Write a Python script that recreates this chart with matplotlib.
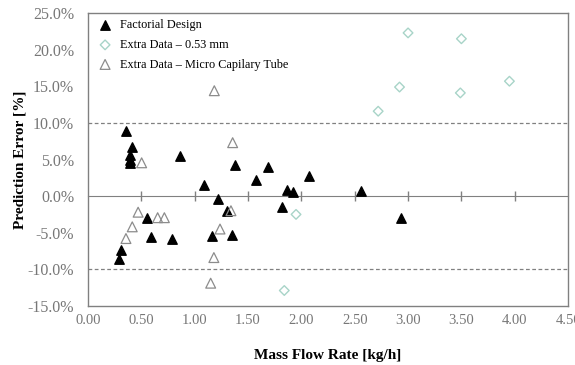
import matplotlib
matplotlib.use('Agg')
import matplotlib.pyplot as plt
from matplotlib.ticker import FuncFormatter

plt.rcParams['font.family'] = ['Liberation Serif', 'DejaVu Serif']

# Factorial Design
fact_x = [0.36, 0.41, 0.39, 0.39, 0.39, 0.86, 1.38, 1.69, 1.09, 1.575, 1.87, 1.925,
          1.216, 1.30, 1.815, 0.556, 0.594, 0.79, 1.165, 1.347, 0.306, 0.29,
          2.075, 2.556, 2.93]
fact_y = [8.9, 6.7, 5.6, 4.9, 4.5, 5.5, 4.2, 4.0, 1.5, 2.2, 0.9, 0.6,
          -0.45, -2.05, -1.45, -3.05, -5.6, -5.9, -5.45, -5.3, -7.3, -8.6,
          2.8, 0.68, -2.95]

# Extra Data - 0.53 mm
d053_x = [3.00, 3.50, 3.95, 2.92, 3.49, 2.72, 1.95, 1.84]
d053_y = [22.3, 21.5, 15.7, 14.9, 14.1, 11.6, -2.5, -12.9]

# Extra Data - Micro Capilary Tube
mct_x = [1.184, 1.356, 0.503, 0.47, 0.653, 0.716, 0.415, 0.356, 1.34, 1.2375, 1.18, 1.15]
mct_y = [14.4, 7.3, 4.55, -2.2, -2.95, -2.95, -4.2, -5.8, -2.0, -4.5, -8.4, -11.9]

x_ticks = [0.0, 0.5, 1.0, 1.5, 2.0, 2.5, 3.0, 3.5, 4.0, 4.5]
y_ticks = [-15, -10, -5, 0, 5, 10, 15, 20, 25]

fig = plt.figure(figsize=(5.75, 3.65), dpi=100)
ax = fig.add_axes([0.153, 0.162, 0.835, 0.802])

grey = '#808080'
ax.axhline(10, color=grey, lw=0.9, ls=(0, (3, 2)), zorder=1)
ax.axhline(-10, color=grey, lw=0.9, ls=(0, (3, 2)), zorder=1)

ax.scatter(fact_x, fact_y, marker='^', s=46, c='black', zorder=3, label='Factorial Design')
ax.scatter(d053_x, d053_y, marker='D', s=24, facecolors='none', edgecolors='#a8d4c8',
           linewidths=1.0, zorder=3, label='Extra Data – 0.53 mm')
ax.scatter(mct_x, mct_y, marker='^', s=50, facecolors='none', edgecolors='#8c8c8c',
           linewidths=0.9, zorder=3, label='Extra Data – Micro Capilary Tube')

ax.set_xlim(0, 4.5)
ax.set_ylim(-15, 25)
ax.set_xticks(x_ticks)
ax.set_yticks(y_ticks)
ax.xaxis.set_major_formatter(FuncFormatter(lambda v, p: f'{v:.2f}'))
ax.yaxis.set_major_formatter(FuncFormatter(lambda v, p: f'{v:.1f}%'))
ax.tick_params(axis='x', length=0, labelsize=10.5, labelcolor='#777777', pad=6)
ax.tick_params(axis='y', length=0, labelsize=11.5, labelcolor='#777777', pad=10)

for s in ax.spines.values():
    s.set_color(grey)
    s.set_linewidth(1.0)

# zero line with crossing ticks
zero_ax = ax.secondary_xaxis(15 / 40)
zero_ax.set_xticks(x_ticks[1:-1])
zero_ax.tick_params(direction='inout', length=7, width=1.0, color=grey, labelbottom=False,
                    labeltop=False)
zero_ax.spines['top'].set_color(grey)
zero_ax.spines['bottom'].set_color(grey)

ax.set_xlabel('Mass Flow Rate [kg/h]', fontsize=11, fontweight='bold', labelpad=16)
ax.set_ylabel('Prediction Error [%]', fontsize=11, fontweight='bold', labelpad=1)

ax.legend(loc='upper left', frameon=False, fontsize=8.8, handletextpad=0.2,
          borderaxespad=0.0, labelspacing=0.62, scatterpoints=1,
          bbox_to_anchor=(0.0, 0.995))

fig.savefig('out.png', dpi=100)
